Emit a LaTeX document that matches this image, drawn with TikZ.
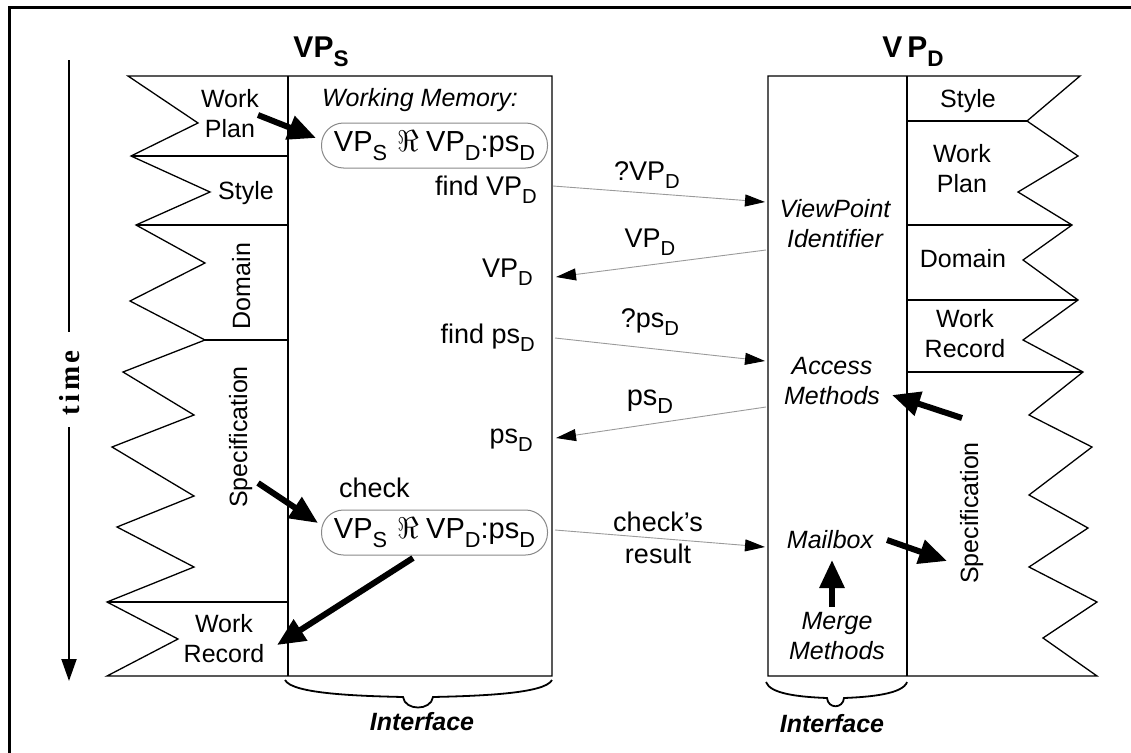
\documentclass[tikz,border=0pt]{standalone}
\usepackage{fontspec}
\usepackage{graphicx}
\setmainfont{Liberation Sans}
\newfontfamily\timesfont[LetterSpace=12]{Liberation Serif}
\usetikzlibrary{arrows.meta}
\newcommand\sbx[1]{\raisebox{-0.3em}{\scalebox{0.75}{#1}}}
\newcommand\reSym{\scalebox{3}{\fontsize{10}{12}\selectfont$\Re$}}
\definecolor{thin}{HTML}{9A9A9A}
\definecolor{boxg}{HTML}{888888}
\tikzset{
  lbl/.style={font=\fontsize{25}{30}\selectfont, inner sep=0pt, align=center},
  arl/.style={font=\fontsize{27}{32}\selectfont, inner sep=0pt, align=center},
  itl/.style={font=\fontsize{25}{30}\selectfont\itshape, inner sep=0pt, align=center},
  ttl/.style={font=\fontsize{30}{34}\selectfont\bfseries, inner sep=0pt},
  ifc/.style={font=\fontsize{25}{30}\selectfont\bfseries\itshape, inner sep=0pt},
  wmbox/.style={draw=boxg, line width=1pt, rounded corners=22pt, minimum width=226pt, minimum height=45pt, inner sep=0pt, font=\fontsize{29}{34}\selectfont},
  outline/.style={draw=black, line width=1.3pt, line join=miter},
  msg/.style={draw=thin, line width=0.9pt, -{Triangle[length=20pt,width=12pt,color=black]}},
  fat/.style={draw=black, line width=6pt, -{Triangle[length=28pt,width=24pt]}},
  brc/.style={draw=black, line width=1.8pt},
}
\begin{document}
\begin{tikzpicture}[x=1pt,y=-1pt]
\useasboundingbox (0,0) rectangle (1131,752);
\clip (0,0) rectangle (1131,752);
% frame
\draw[line width=3pt] (9,760) -- (9,8) -- (1140,8);

% time axis
\node[font=\fontsize{29}{30}\selectfont\timesfont\bfseries, rotate=90, anchor=base, inner sep=0pt] (time) at (79,383) {time};
\coordinate (t0) at (69,60);
\coordinate (t1) at (69,332);
\coordinate (t2) at (69,427);
\coordinate (t3) at (69,681);
\draw[line width=2pt] (t0) -- (t1);
\draw[line width=2pt, -{Triangle[length=22pt,width=15pt]}] (t2) -- (t3);

% titles
\node[ttl, anchor=base] (vps) at (321,57) {VP\sbx{S}};
\node[ttl, anchor=base] (vpd) at (913,57) {V\,P\sbx{D}};

% left viewpoint outline
\draw[outline] (552,76) -- (128,76) -- (198,123) -- (131,156) -- (210,192) -- (136,225)
  -- (205,263) -- (130,301) -- (205,340) -- (123,372) -- (194,415) -- (112,447)
  -- (194,496) -- (117,527) -- (194,567) -- (107,602) -- (178,639) -- (107,676)
  -- (552,676) -- cycle;
\draw[outline] (288,76) -- (288,676);
\draw[outline] (131,156) -- (288,156);
\draw[outline] (136,225) -- (288,225);
\draw[outline] (205,340) -- (288,340);
\draw[outline] (107,602) -- (288,602);

% right viewpoint outline
\draw[outline] (768,76) -- (1080,76) -- (1027,121) -- (1078,156) -- (1018,192) -- (1072,225)
  -- (1023,260) -- (1078,300) -- (1023,340) -- (1083,372) -- (1029,415) -- (1092,447)
  -- (1029,495) -- (1088,528) -- (1029,567) -- (1097,602) -- (1043,638) -- (1097,676)
  -- (768,676) -- cycle;
\draw[outline] (907,76) -- (907,676);
\draw[outline] (907,121) -- (1027,121);
\draw[outline] (907,225) -- (1072,225);
\draw[outline] (907,300) -- (1078,300);
\draw[outline] (907,372) -- (1083,372);

% left labels
\node[lbl] (lwp) at (230,113.5) {Work\\Plan};
\node[lbl, anchor=base] (lst) at (246,199) {Style};
\node[lbl, rotate=90, anchor=base] (ldo) at (250,286) {Domain};
\node[lbl, rotate=90, anchor=base] (lsp) at (247,437) {Specification};
\node[lbl] (lwr) at (224,638.5) {Work\\Record};

% right labels
\node[lbl, anchor=base] (rst) at (968,107) {Style};
\node[lbl] (rwp) at (962,169) {Work\\Plan};
\node[lbl, anchor=base] (rdo) at (963,267) {Domain};
\node[lbl] (rwr) at (965,334) {Work\\Record};
\node[lbl, rotate=90, anchor=base] (rsp) at (978,513) {Specification};

% working memory
\node[itl, anchor=base] (wm) at (420,106) {Working Memory:};
\node[wmbox] (b1) at (434.5,145.5) {VP\sbx{S}\hspace{0.35em}\reSym\hspace{0.25em}VP\sbx{D}:ps\sbx{D}};
\node[arl, anchor=base east] (fvp) at (537,195) {find VP\sbx{D}};
\node[arl, anchor=base east] (rvp) at (533,277) {VP\sbx{D}};
\node[arl, anchor=base east] (fps) at (535,343) {find ps\sbx{D}};
\node[arl, anchor=base east] (rps) at (533,443) {ps\sbx{D}};
\node[arl, anchor=base west] (chk) at (339,497) {check};
\node[wmbox] (b2) at (434.5,532.5) {VP\sbx{S}\hspace{0.35em}\reSym\hspace{0.25em}VP\sbx{D}:ps\sbx{D}};

% interface of VP_D
\node[itl] (vpi) at (835,224) {ViewPoint\\Identifier};
\node[itl] (acm) at (832,381) {Access\\Methods};
\node[itl, anchor=base] (mbx) at (830,548) {Mailbox};
\node[itl] (mgm) at (837,636) {Merge\\Methods};

% message labels
\node[arl, anchor=base] (l1) at (647,180) {?VP\sbx{D}};
\node[arl, anchor=base] (l2) at (650,247) {VP\sbx{D}};
\node[arl, anchor=base] (l3) at (650,327) {?ps\sbx{D}};
\node[font=\fontsize{29}{32}\selectfont, inner sep=0pt, anchor=base] (l4) at (650,405) {ps\sbx{D}};
\node[arl] (l5) at (658,537.5) {check's\\result};

% messages
\coordinate (a1s) at (553,186); \coordinate (a1e) at (765,202);
\coordinate (a2s) at (766,250); \coordinate (a2e) at (556,277);
\coordinate (a3s) at (555,338); \coordinate (a3e) at (765,361);
\coordinate (a4s) at (766,407); \coordinate (a4e) at (556,438);
\coordinate (a5s) at (555,530); \coordinate (a5e) at (765,547);
\draw[msg] (a1s) -- (a1e);
\draw[msg] (a2s) -- (a2e);
\draw[msg] (a3s) -- (a3e);
\draw[msg] (a4s) -- (a4e);
\draw[msg] (a5s) -- (a5e);

% thick arrows
\coordinate (f1s) at (258,115); \coordinate (f1e) at (316,138);
\coordinate (f2s) at (258,483); \coordinate (f2e) at (318,523);
\coordinate (f3s) at (413,558); \coordinate (f3e) at (277,645);
\coordinate (f4s) at (962,418); \coordinate (f4e) at (892,395);
\coordinate (f5s) at (887,540); \coordinate (f5e) at (947,561);
\coordinate (f6s) at (832,607); \coordinate (f6e) at (832,560);
\draw[fat] (f1s) -- (f1e);
\draw[fat] (f2s) -- (f2e);
\draw[fat] (f3s) -- (f3e);
\draw[fat] (f4s) -- (f4e);
\draw[fat] (f5s) -- (f5e);
\draw[fat] (f6s) -- (f6e);

% braces
\draw[brc] (285,680) .. controls (292,694) and (360,696) .. (403,697)
  .. controls (405,711) and (431,711) .. (433,697)
  .. controls (476,696) and (545,694) .. (552,680);
\draw[brc] (766,682) .. controls (770,694) and (800,697) .. (827,698)
  .. controls (828,709) and (843,709) .. (844,698)
  .. controls (870,697) and (903,694) .. (907,682);
\node[ifc, anchor=base] (if1) at (422,730) {Interface};
\node[ifc, anchor=base] (if2) at (832,732) {Interface};
\end{tikzpicture}
\end{document}
